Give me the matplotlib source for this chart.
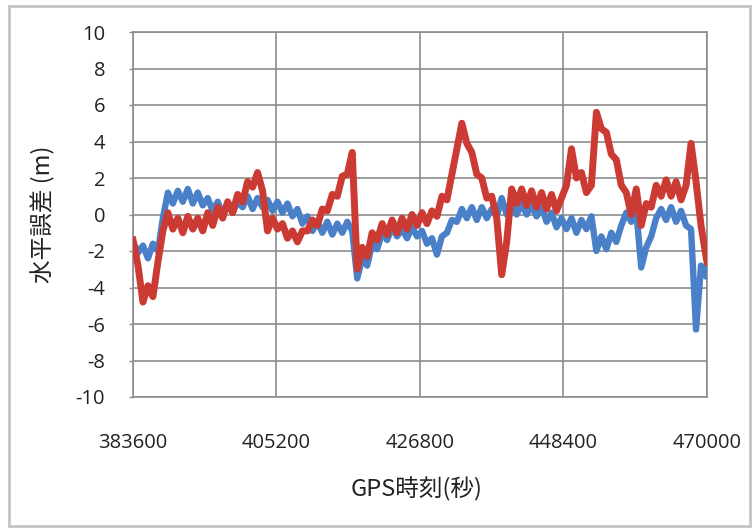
import matplotlib.pyplot as plt
from matplotlib.patches import Rectangle

# GPS time of week (s), both receivers logged at the same epochs
gps_time = [383600, 384350, 385100, 385850, 386600, 387350, 388100, 388850, 389600, 390350,
            391100, 391850, 392600, 393350, 394100, 394850, 395600, 396350, 397100, 397850,
            398600, 399350, 400100, 400850, 401600, 402350, 403100, 403850, 404600, 405350,
            406100, 406850, 407600, 408350, 409100, 409850, 410600, 411350, 412100, 412850,
            413600, 414350, 415100, 415850, 416600, 417350, 418100, 418850, 419600, 420350,
            421100, 421850, 422600, 423350, 424100, 424850, 425600, 426350, 427100, 427850,
            428600, 429350, 430100, 430850, 431600, 432350, 433100, 433850, 434600, 435350,
            436100, 436850, 437600, 438350, 439100, 439850, 440600, 441350, 442100, 442850,
            443600, 444350, 445100, 445850, 446600, 447350, 448100, 448850, 449600, 450350,
            451100, 451850, 452600, 453350, 454100, 454850, 455600, 456350, 457100, 457850,
            458600, 459350, 460100, 460850, 461600, 462350, 463100, 463850, 464600, 465350,
            466100, 466850, 467600, 468350, 469100, 469850, 470000]

# horizontal error (m)
blue_err = [-1.5, -2.1, -1.7, -2.4, -1.6, -2.0, -0.2, 1.2, 0.6, 1.3,
            0.7, 1.4, 0.6, 1.2, 0.5, 0.9, 0.2, 0.7, 0.0, 0.6,
            0.1, 0.7, 0.4, 1.0, 0.3, 0.9, 0.4, 0.8, 0.2, 0.7,
            0.1, 0.6, -0.1, 0.3, -0.5, -0.1, -0.9, -0.4, -1.0, -0.4,
            -1.1, -0.5, -1.0, -0.4, -0.9, -3.5, -2.4, -2.8, -1.6, -1.9,
            -1.0, -1.4, -0.7, -1.2, -0.8, -1.3, -0.7, -1.2, -0.9, -1.6,
            -1.3, -2.2, -1.2, -1.0, -0.3, -0.4, 0.3, -0.2, 0.4, -0.3,
            0.4, -0.2, 0.3, -0.1, 0.9, 0.0, 0.5, 0.0, 0.6, 0.0,
            0.5, -0.1, 0.4, -0.4, 0.1, -0.7, -0.2, -0.8, -0.2, -1.0,
            -0.3, -0.8, -0.1, -2.0, -1.2, -1.9, -1.0, -1.5, -0.6, 0.1,
            -0.4, 0.2, -2.9, -1.8, -1.2, -0.2, 0.3, -0.3, 0.4, -0.4,
            0.2, -0.6, -0.8, -6.3, -2.8, -3.4, -2.8]

red_err = [-1.4, -2.8, -4.8, -3.9, -4.5, -2.6, -0.9, 0.1, -0.8, -0.2,
           -1.0, -0.1, -0.8, -0.2, -0.9, 0.1, -0.6, 0.4, -0.2, 0.7,
           0.1, 1.1, 0.7, 1.8, 1.5, 2.3, 1.3, -0.9, -0.2, -0.8,
           -0.5, -1.3, -0.9, -1.5, -0.9, -0.9, -0.3, -0.6, 0.3, 0.2,
           1.1, 1.0, 2.1, 2.2, 3.4, -3.0, -1.8, -2.3, -1.0, -1.4,
           -0.5, -1.1, -0.3, -1.0, -0.2, -0.8, 0.0, -0.6, 0.1, -0.5,
           0.2, -0.1, 1.0, 0.8, 2.2, 3.6, 5.0, 3.9, 3.4, 2.2,
           2.0, 0.9, 1.0, -0.2, -3.3, -1.5, 1.4, 0.6, 1.4, 0.5,
           1.3, 0.4, 1.2, 0.3, 1.1, 0.2, 0.9, 1.6, 3.6, 2.0,
           2.3, 1.2, 1.6, 5.6, 4.7, 4.5, 3.3, 3.0, 1.6, 1.2,
           0.0, 1.4, -0.6, 0.6, 0.4, 1.6, 1.0, 1.9, 1.0, 1.8,
           0.8, 1.6, 3.9, 1.8, -0.6, -2.3, -2.6]

x_ticks = [383600, 405200, 426800, 448400, 470000]
y_ticks = list(range(-10, 11, 2))

tick_font = 'Open Sans'
cjk_font = ['Noto Sans CJK JP', 'DejaVu Sans']
grid_col = '#8c8c8c'

fig = plt.figure(figsize=(7.54, 5.29), dpi=100)
ax = fig.add_axes([133 / 754, 1 - 397 / 529, 574 / 754, 365 / 529])

# noisy series drawn as wide strokes so the jitter reads as a band
ax.plot(gps_time, blue_err, color='#4a80c8', lw=4.6, zorder=3)
ax.plot(gps_time, red_err, color='#cc3b33', lw=5.0, zorder=4)

ax.set_xlim(383600, 470000)
ax.set_ylim(-10, 10)
ax.set_xticks(x_ticks)
ax.set_yticks(y_ticks)
ax.set_xticklabels([str(v) for v in x_ticks], fontsize=14.5, family=tick_font, color='#222222')
ax.set_yticklabels([str(v) for v in y_ticks], fontsize=14.5, family=tick_font, color='#222222')
ax.tick_params(axis='y', length=3, width=1, color=grid_col, pad=17)
ax.tick_params(axis='x', length=0, pad=26)

ax.grid(True, color=grid_col, lw=1.2)
ax.set_axisbelow(True)
for side in ['left', 'right', 'top', 'bottom']:
    ax.spines[side].set_color(grid_col)
    ax.spines[side].set_linewidth(1.2)

fig.text(43 / 754, 1 - 214 / 529, '水平誤差 (m)', rotation=90, ha='center', va='center',
         fontsize=17, family=cjk_font, color='#222222')
fig.text(417 / 754, 1 - 489 / 529, 'GPS時刻(秒)', ha='center', va='center',
         fontsize=17, family=cjk_font, color='#222222')

# light frame around the whole chart
fig.patches.append(Rectangle((9 / 754, 3 / 529), 741 / 754, 520 / 529,
                             transform=fig.transFigure, fill=False,
                             edgecolor='#c4c4c4', lw=2))

fig.savefig('out.png', dpi=100)
